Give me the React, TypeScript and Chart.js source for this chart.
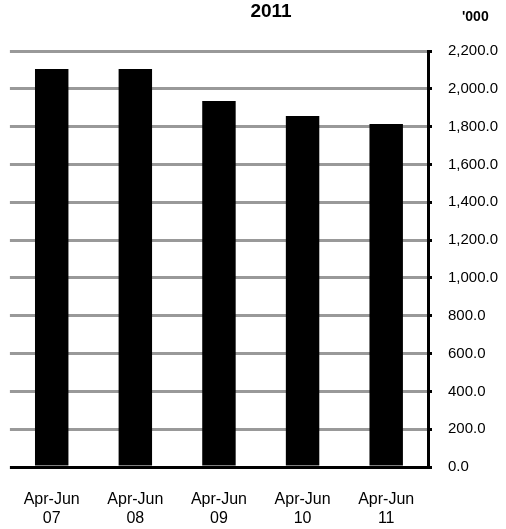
import React, { useEffect, useRef } from "react";
import { Chart, registerables } from "chart.js";

Chart.register(...registerables);

// Quarterly totals, in thousands
const quarterLabels: string[][] = [
  ["Apr-Jun", "07"],
  ["Apr-Jun", "08"],
  ["Apr-Jun", "09"],
  ["Apr-Jun", "10"],
  ["Apr-Jun", "11"],
];
const quarterValues: number[] = [2105, 2105, 1936, 1856, 1814];

const chartTitle = "2011";
const unitLabel = "'000";

const yMin = 0;
const yMax = 2200;
const yStep = 200;

const FONT = "'Liberation Sans', Arial, sans-serif";

const headerText = {
  id: "headerText",
  afterDraw(chart: Chart) {
    const { ctx } = chart;
    ctx.save();
    ctx.fillStyle = "#000";
    ctx.textBaseline = "alphabetic";
    ctx.font = `bold 19px ${FONT}`;
    ctx.textAlign = "center";
    ctx.fillText(chartTitle, 271, 17);
    ctx.font = `bold 14px ${FONT}`;
    ctx.textAlign = "left";
    ctx.fillText(unitLabel, 462, 21);
    ctx.restore();
  },
};

export default function App() {
  const canvasRef = useRef<HTMLCanvasElement | null>(null);

  useEffect(() => {
    if (!canvasRef.current) return;
    const chart = new Chart(canvasRef.current, {
      type: "bar",
      data: {
        labels: quarterLabels,
        datasets: [
          {
            data: quarterValues,
            backgroundColor: "#000000",
            borderWidth: 0,
            categoryPercentage: 1,
            barPercentage: 0.4,
          },
        ],
      },
      options: {
        responsive: false,
        animation: false,
        layout: { padding: { left: 7, top: 51, right: 0, bottom: 0 } },
        plugins: {
          legend: { display: false },
          title: { display: false },
          tooltip: { enabled: false },
        },
        scales: {
          x: {
            grid: { display: false, drawTicks: false },
            border: { display: false },
            ticks: {
              color: "#000",
              font: { family: FONT, size: 16 },
              padding: 23,
              maxRotation: 0,
              autoSkip: false,
            },
            afterFit(scale: any) {
              scale.height = 62;
            },
          },
          y: {
            position: "right",
            min: yMin,
            max: yMax,
            ticks: {
              stepSize: yStep,
              color: "#000",
              font: { family: FONT, size: 15 },
              padding: 16,
              callback: (v: any) =>
                Number(v).toLocaleString("en-US", {
                  minimumFractionDigits: 1,
                  maximumFractionDigits: 1,
                }),
            },
            grid: {
              color: (c: any) => (c.tick && c.tick.value === 0 ? "#000000" : "#999999"),
              lineWidth: 3,
              drawTicks: true,
              tickLength: 4,
              tickColor: "#000000",
              tickWidth: 3,
            },
            border: { display: true, color: "#000000", width: 3 },
            afterFit(scale: any) {
              scale.width = 78;
            },
          },
        },
      },
      plugins: [headerText],
    });
    return () => chart.destroy();
  }, []);

  return (
    <div style={{ position: "absolute", left: 0, top: 0, width: 506, height: 529, background: "#fff" }}>
      <canvas ref={canvasRef} width={506} height={529} />
    </div>
  );
}
